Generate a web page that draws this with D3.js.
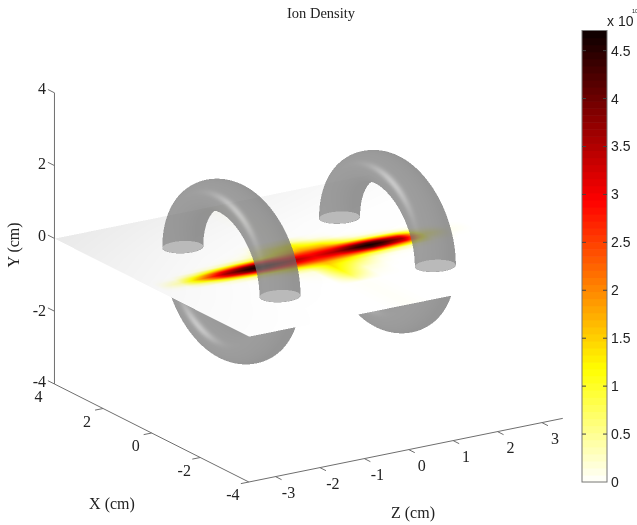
<!DOCTYPE html>
<html><head><meta charset="utf-8">
<script src="https://cdn.jsdelivr.net/npm/d3@7"></script>
<style>
html,body{margin:0;padding:0;background:#fff;overflow:hidden}
#wrap{position:relative;width:637px;height:525px}
canvas,svg{position:absolute;left:0;top:0}
text{fill:#222}
</style></head><body><div id="wrap"><canvas id="c" width="637" height="525"></canvas><svg id="s" width="637" height="525"></svg></div>
<script>
// ---------- data ----------
const chartTitle = "Ion Density";
const xTicks = [4, 2, 0, -2, -4];
const yTicks = [4, 2, 0, -2, -4];
const zTicks = [-3, -2, -1, 0, 1, 2, 3];
const colorTicks = [0, 0.5, 1, 1.5, 2, 2.5, 3, 3.5, 4, 4.5];
const colorMax = 4.71;
const colorStops = [0, 1.18, 2.94, 4.71];
const colorStopColors = ["#ffffff", "#ffff00", "#ff0000", "#0b0000"];
const colorLevels = 64;
const coilZ = [-1.81, 1.65];
const coilX = [0, -0.1];
const coilRadius = [2.0, 1.97];
const tubeRadius = [0.4, 0.4];
const xLimits = [4, -4];
const zLimits = [-3.6, 3.47];
// ion density (x 10^10) on the plane y = 0: rows follow densityX, columns densityZ
const densityZ = [-3.5,-3,-2.5,-2,-1.5,-1.25,-1,-0.5,0,0.5,1,1.25,1.5,2,2.5,3,3.5];
const densityX = [1.3,1.0,0.8,0.6,0.4,0.22,0.07,-0.08,-0.23,-0.38,-0.58,-0.8,-1.0,-1.3,-1.6,-1.9,-2.1];
const density = [
 [0,0,0,0,0,0,0,0,0.03,0,0,0,0,0,0,0,0],
 [0,0,0,0,0,0,0.02,0.3,0.5,0.1,0,0,0,0,0,0,0],
 [0,0,0,0,0.01,0.03,0.1,0.8,1.15,0.45,0.05,0.03,0.01,0,0,0,0],
 [0,0,0,0.02,0.08,0.12,0.3,1.1,1.4,1.15,0.4,0.15,0.08,0.03,0,0,0],
 [0,0,0.05,0.25,0.6,0.7,0.9,1.5,1.8,1.7,1.0,0.75,0.6,0.3,0.05,0,0],
 [0,0.05,0.6,1.6,2.4,2.6,2.6,2.4,2.5,2.5,2.6,2.6,2.4,1.7,0.3,0.02,0],
 [0,0.25,1.5,3.0,4.0,4.2,3.9,3.1,2.9,3.2,4.0,4.2,4.0,3.1,0.6,0.06,0],
 [0,0.4,2.0,3.6,4.5,4.7,4.5,3.6,3.1,3.6,4.5,4.7,4.5,3.6,0.8,0.08,0],
 [0,0.25,1.5,3.0,4.0,4.2,3.9,3.2,2.9,3.1,3.9,4.2,4.0,3.1,0.6,0.06,0],
 [0,0.05,0.6,1.6,2.4,2.6,2.6,2.5,2.5,2.4,2.5,2.6,2.4,1.7,0.3,0.02,0],
 [0,0,0.05,0.25,0.6,0.7,0.9,1.4,1.7,1.4,0.9,0.75,0.6,0.3,0.05,0,0],
 [0,0,0,0.02,0.08,0.12,0.25,0.5,1.4,0.9,0.3,0.15,0.08,0.03,0,0,0],
 [0,0,0,0,0.01,0.03,0.06,0.15,1.3,0.6,0.12,0.03,0.01,0,0,0,0],
 [0,0,0,0,0,0,0.01,0.06,1.1,0.25,0.03,0,0,0,0,0,0],
 [0,0,0,0,0,0,0,0.02,0.8,0.1,0,0,0,0,0,0,0],
 [0,0,0,0,0,0,0,0,0.35,0.03,0,0,0,0,0,0,0],
 [0,0,0,0,0,0,0,0,0.03,0,0,0,0,0,0,0,0]
];
// plane grey level (lighting)
const shadeX = [4, 2, 0, -2, -4];
const shadeZ = [-3.6, -1.8, 0, 1.8, 3.5];
const shade = [
 [233,238,242,246,250],
 [240,246,250,253,255],
 [246,252,255,255,255],
 [250,254,255,255,255],
 [253,255,255,255,255]
];

// ---------- projection ----------
const ORIGIN = [311.5, 255];
const xToPx = d3.scaleLinear().domain([0,1]).range([0,-24.3]);
const xToPy = d3.scaleLinear().domain([0,1]).range([0,-12.25]);
const zToPx = d3.scaleLinear().domain([0,1]).range([0,44.4]);
const zToPy = d3.scaleLinear().domain([0,1]).range([0,-9]);
const yToPy = d3.scaleLinear().domain([0,1]).range([0,-36.4]);
const project = (x,y,z) => [ORIGIN[0]+xToPx(x)+zToPx(z), ORIGIN[1]+xToPy(x)+yToPy(y)+zToPy(z)];
const color = d3.scaleLinear().domain(colorStops).range(colorStopColors).clamp(true);

// ---------- raster layer: plane, density and coils ----------
(function(){
  const SS=2, W=637*SS, H=525*SS;
  const lut=d3.range(512).map(i=>{const c=d3.rgb(color(i/511*colorMax));return [c.r,c.g,c.b];});
  const ax=xToPx(1), bx=zToPx(1), cx=xToPy(1), dx=zToPy(1), ey=yToPy(1), det=ax*dx-bx*cx;
  // view direction = null vector of the projection, pointing at the viewer
  let vx=-1, vz=-Math.abs(ax/bx);
  let vy=-(cx*vx+dx*vz)/ey;
  const vn=Math.hypot(vx,vy,vz); vx/=vn; vy/=vn; vz/=vn;
  let hx=-0.2,hy=0.45,hz=-0.87; const hn=Math.hypot(hx,hy,hz); hx/=hn;hy/=hn;hz/=hn;
  const upD=new Float32Array(W*H).fill(-1e9), upS=new Float32Array(W*H);
  const loD=new Float32Array(W*H).fill(-1e9), loS=new Float32Array(W*H);
  const NT=3000, NP=700;
  coilZ.forEach((zc,ci)=>{
    const xc=coilX[ci], R=coilRadius[ci], rt=tubeRadius[ci];
    for(let i=0;i<NT;i++){
      const t=i/NT*2*Math.PI, rx=Math.cos(t), ry=Math.sin(t);
      for(let j=0;j<NP;j++){
        const p=j/NP*2*Math.PI, cp=Math.cos(p), sp=Math.sin(p);
        const nx=cp*rx, ny=cp*ry, nz=sp;
        if(nx*vx+ny*vy+nz*vz<=0) continue;
        const X=xc+R*rx+rt*nx, Y=R*ry+rt*ny, Z=zc+rt*nz;
        const d=X*vx+Y*vy+Z*vz;
        const s=project(X,Y,Z);
        const px=Math.round(s[0]*SS), py=Math.round(s[1]*SS);
        if(px<0||py<0||px>=W||py>=H) continue;
        const k=py*W+px;
        const ndh=Math.max(0,nx*hx+ny*hy+nz*hz);
        const S=108+12*ndh+58*Math.pow(ndh,45);
        if(Y>=0){ if(d>upD[k]){upD[k]=d;upS[k]=S;} }
        else { if(d>loD[k]){loD[k]=d;loS[k]=S;} }
      }
    }
  });
  const alpha=0.72;
  const xIdx=d3.scaleLinear().domain(densityX).range(d3.range(densityX.length)).clamp(true);
  const zIdx=d3.scaleLinear().domain(densityZ).range(d3.range(densityZ.length)).clamp(true);
  const sxIdx=d3.scaleLinear().domain(shadeX).range(d3.range(shadeX.length)).clamp(true);
  const szIdx=d3.scaleLinear().domain(shadeZ).range(d3.range(shadeZ.length)).clamp(true);
  const bil=(g,a,b)=>{const a0=Math.min(Math.floor(a),g.length-2),b0=Math.min(Math.floor(b),g[0].length-2),fa=a-a0,fb=b-b0;
    return (g[a0][b0]*(1-fb)+g[a0][b0+1]*fb)*(1-fa)+(g[a0+1][b0]*(1-fb)+g[a0+1][b0+1]*fb)*fa;};
  const off=document.createElement('canvas'); off.width=W; off.height=H;
  const octx=off.getContext('2d'); const img=octx.createImageData(W,H); const D=img.data;
  for(let py=0;py<H;py++){
    for(let px=0;px<W;px++){
      const k=py*W+px;
      let r=255,g=255,b=255;
      if(loD[k]>-1e8){const S=loS[k]; r=g=b=alpha*S+(1-alpha)*255;}
      const u=px/SS-ORIGIN[0], w=py/SS-ORIGIN[1];
      const X=(u*dx-bx*w)/det, Z=(ax*w-cx*u)/det;
      const inside=X<=xLimits[0]&&X>=xLimits[1]&&Z>=zLimits[0]&&Z<=zLimits[1];
      if(inside){
        const v=bil(density,xIdx(X),zIdx(Z));
        const c=lut[Math.min(511,Math.round(v/colorMax*511))];
        const sh=bil(shade,sxIdx(X),szIdx(Z))/255;
        r=c[0]*sh;g=c[1]*sh;b=c[2]*sh;
      }
      if(upD[k]>-1e8){const S=upS[k]; r=alpha*S+(1-alpha)*r; g=alpha*S+(1-alpha)*g; b=alpha*S+(1-alpha)*b;}
      // open tube ends at y = 0
      for(let ci=0;ci<coilZ.length;ci++){
        const dz=Z-coilZ[ci], dr=Math.abs(X-coilX[ci])-coilRadius[ci];
        if(dr*dr+dz*dz<tubeRadius[ci]*tubeRadius[ci]){ r=g=b=186; }
      }
      const q=k*4; D[q]=r;D[q+1]=g;D[q+2]=b;D[q+3]=255;
    }
  }
  octx.putImageData(img,0,0);
  const ctx=document.getElementById('c').getContext('2d');
  ctx.imageSmoothingEnabled=true; ctx.imageSmoothingQuality='high';
  ctx.drawImage(off,0,0,637,525);
})();

// ---------- vector layer ----------
const svg=d3.select('#s');
const AXIS="#6e6e6e", SERIF="'Liberation Serif','Times New Roman',serif", SANS="'Liberation Sans',Arial,sans-serif";
const seg=(a,b)=>svg.append('line').attr('x1',a[0]).attr('y1',a[1]).attr('x2',b[0]).attr('y2',b[1]).attr('stroke',AXIS).attr('stroke-width',1);
const corner=[xLimits[0],zLimits[0]], front=[xLimits[1],zLimits[0]];
seg(project(corner[0],4,corner[1]),project(corner[0],-4,corner[1]));
seg(project(corner[0],-4,corner[1]),project(front[0],-4,front[1]));
seg(project(front[0],-4,front[1]),project(front[0],-4,zLimits[1]));
const label=(t,x,y,a,size,fam)=>svg.append('text').attr('x',x).attr('y',y).attr('text-anchor',a||'middle').attr('font-size',size||16).attr('font-family',fam||SERIF).text(t);
yTicks.forEach(v=>{const p=project(corner[0],v,corner[1]),q=project(corner[0]+0.27,v,corner[1]);seg(p,q);
  label(v,46,p[1]+ (v===0?3:v===2?3:v===4?1:v===-4?3:5),'end');});
xTicks.forEach(v=>{const p=project(v,-4,zLimits[0]),q=project(v,-4,zLimits[0]-0.18);if(v!==4)seg(p,q);
  label(v,p[0]-16,p[1]+18,'middle');});
zTicks.forEach(v=>{const p=project(xLimits[1],-4,v),q=project(xLimits[1]-0.25,-4,v);seg(p,q);
  label(v,p[0]+13,p[1]+21,'middle');});
label(chartTitle,321,17.5,'middle',14.5);
label("X (cm)",112,509,'middle',16);
label("Z (cm)",413,518,'middle',16);
svg.append('text').attr('transform','translate(19,245) rotate(-90)').attr('text-anchor','middle').attr('font-size',16).attr('font-family',SERIF).text("Y (cm)");

// colour bar
const cbY=d3.scaleLinear().domain([0,colorMax]).range([482,30.5]);
const BAR=[582,607];
const levels=d3.range(colorLevels);
svg.append('g').selectAll('rect').data(levels).join('rect')
  .attr('x',BAR[0]).attr('width',BAR[1]-BAR[0])
  .attr('y',d=>cbY((d+1)/colorLevels*colorMax)).attr('height',d=>cbY(d/colorLevels*colorMax)-cbY((d+1)/colorLevels*colorMax)+0.6)
  .attr('fill',d=>color((d+0.5)/colorLevels*colorMax));
svg.append('rect').attr('x',BAR[0]).attr('y',cbY(colorMax)).attr('width',BAR[1]-BAR[0]).attr('height',cbY(0)-cbY(colorMax)).attr('fill','none').attr('stroke','#777');
colorTicks.forEach(v=>{const y=cbY(v);
  if(v>0){svg.append('line').attr('x1',BAR[0]).attr('x2',BAR[0]+4).attr('y1',y).attr('y2',y).attr('stroke','#444');
  svg.append('line').attr('x1',BAR[1]-4).attr('x2',BAR[1]).attr('y1',y).attr('y2',y).attr('stroke','#444');}
  label(v,611,y+5,'start',14,SANS);
});
label("x 10",607,26,'start',14,SANS);
label("10",632,13,'start',5.5,SANS);
</script></body></html>
